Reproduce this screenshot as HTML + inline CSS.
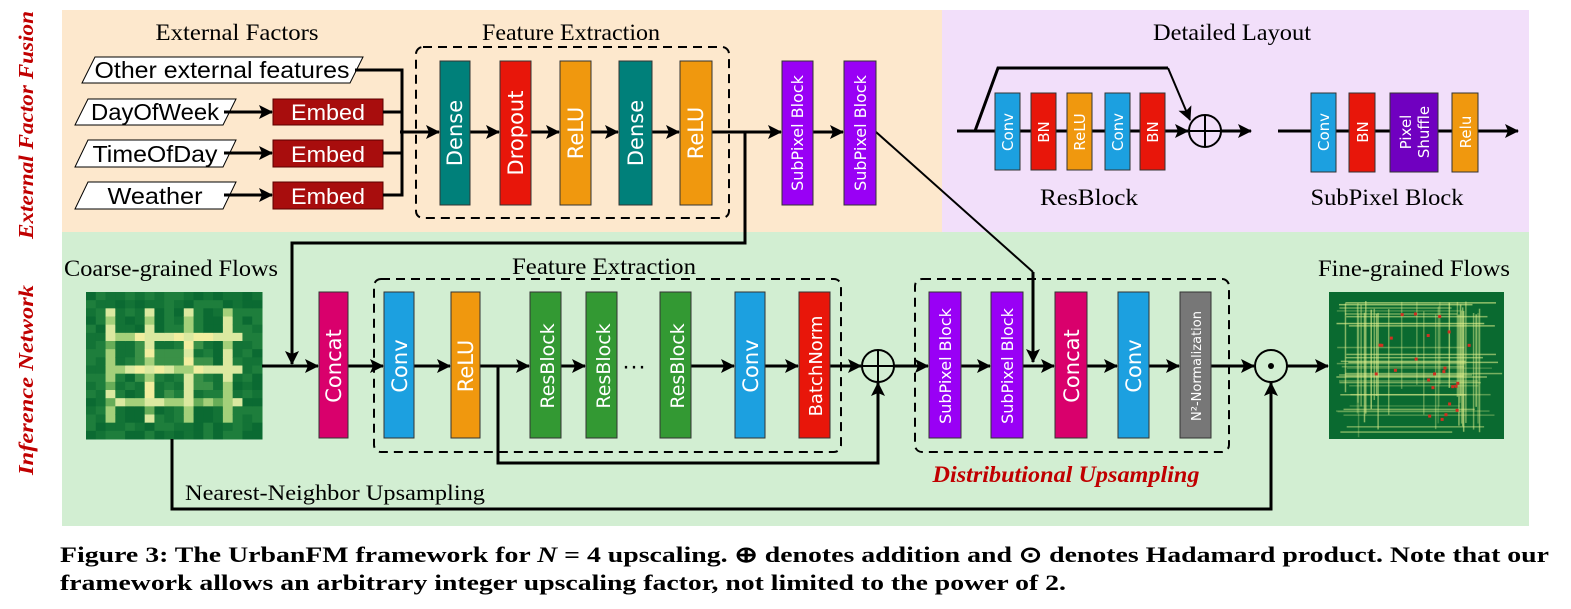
<!DOCTYPE html>
<html><head><meta charset="utf-8"><style>
html,body{margin:0;padding:0;background:#fff;}
svg{display:block;}
.t{font-family:"Liberation Serif",serif;fill:#000;}
.b{font-family:"DejaVu Sans","Liberation Sans",sans-serif;fill:#fff;}
.l{font-family:"Liberation Sans",sans-serif;fill:#000;}
</style></head><body>
<svg id="s" width="1571" height="609" viewBox="0 0 1571 609" xmlns="http://www.w3.org/2000/svg">
<defs>
<marker id="A" markerWidth="14" markerHeight="14" refX="13" refY="7" orient="auto" markerUnits="userSpaceOnUse" viewBox="0 0 14 14"><path d="M0,0 L14,7 L0,14 L3,7 Z" fill="#000"/></marker>
</defs>
<rect x="62" y="10" width="880" height="222" fill="#fde8cd"/>
<rect x="942" y="10" width="587" height="222" fill="#f2dffa"/>
<rect x="62" y="232" width="1467" height="294" fill="#d2eed2"/>

<text transform="translate(33,125) rotate(-90)" text-anchor="middle" font-family="Liberation Serif,serif" font-weight="bold" font-style="italic" font-size="21" fill="#c00000" textLength="228" lengthAdjust="spacingAndGlyphs">External Factor Fusion</text>
<text transform="translate(33,380) rotate(-90)" text-anchor="middle" font-family="Liberation Serif,serif" font-weight="bold" font-style="italic" font-size="21" fill="#c00000" textLength="190" lengthAdjust="spacingAndGlyphs">Inference Network</text>

<text class="t" x="237" y="40" font-size="23" text-anchor="middle" textLength="163" lengthAdjust="spacingAndGlyphs">External Factors</text>
<text class="t" x="571" y="40" font-size="23" text-anchor="middle" textLength="178" lengthAdjust="spacingAndGlyphs">Feature Extraction</text>
<text class="t" x="1232" y="40" font-size="23" text-anchor="middle" textLength="158" lengthAdjust="spacingAndGlyphs">Detailed Layout</text>
<rect x="416" y="47" width="313" height="171" rx="7" fill="none" stroke="#000" stroke-width="2" stroke-dasharray="9,6"/>

<g stroke="#000" stroke-width="1" fill="#fff">
<polygon points="95,57 363,57 350,83 82,83"/>
<polygon points="88,99 236,99 223,125 75,125"/>
<polygon points="88,140 236,140 223,167 75,167"/>
<polygon points="88,182 236,182 223,209 75,209"/>
</g>
<g class="l" font-size="23">
<text x="222" y="78" text-anchor="middle" textLength="255" lengthAdjust="spacingAndGlyphs">Other external features</text>
<text x="155" y="120" text-anchor="middle" textLength="128" lengthAdjust="spacingAndGlyphs">DayOfWeek</text>
<text x="155" y="162" text-anchor="middle" textLength="125" lengthAdjust="spacingAndGlyphs">TimeOfDay</text>
<text x="155" y="204" text-anchor="middle" textLength="95" lengthAdjust="spacingAndGlyphs">Weather</text>
</g>
<g fill="#a80d0d" stroke="#5a0000" stroke-width="1">
<rect x="273" y="99" width="110" height="26"/><rect x="273" y="140" width="110" height="27"/><rect x="273" y="182" width="110" height="27"/>
</g>
<g class="l" font-size="22" text-anchor="middle">
<text x="328" y="120" fill="#fff" textLength="74" lengthAdjust="spacingAndGlyphs">Embed</text>
<text x="328" y="162" fill="#fff" textLength="74" lengthAdjust="spacingAndGlyphs">Embed</text>
<text x="328" y="204" fill="#fff" textLength="74" lengthAdjust="spacingAndGlyphs">Embed</text>
</g>
<g stroke="#000" stroke-width="3" fill="none">
<line x1="224" y1="112" x2="272" y2="112" marker-end="url(#A)"/>
<line x1="224" y1="153" x2="272" y2="153" marker-end="url(#A)"/>
<line x1="224" y1="195" x2="272" y2="195" marker-end="url(#A)"/>
<polyline points="355,70 402,70 402,195 383,195"/>
<line x1="383" y1="112" x2="402" y2="112"/><line x1="383" y1="153" x2="402" y2="153"/>
<line x1="400" y1="132" x2="439" y2="132" marker-end="url(#A)"/>
<line x1="470" y1="132" x2="499" y2="132" marker-end="url(#A)"/>
<line x1="531" y1="132" x2="559" y2="132" marker-end="url(#A)"/>
<line x1="591" y1="132" x2="618" y2="132" marker-end="url(#A)"/>
<line x1="652" y1="132" x2="679" y2="132" marker-end="url(#A)"/>
<line x1="712" y1="132" x2="781" y2="132" marker-end="url(#A)"/>
<line x1="813" y1="132" x2="843" y2="132" marker-end="url(#A)"/>
<polyline points="745,132 745,243 292,243 292,364" marker-end="url(#A)"/>
</g>
<line x1="876" y1="132" x2="1033" y2="272" stroke="#000" stroke-width="2"/>
<polyline points="1033,272 1033,362" stroke="#000" stroke-width="3" fill="none" marker-end="url(#A)"/>

<g stroke="#333" stroke-width="1">
<rect x="440" y="61" width="30" height="144" fill="#00807a"/>
<rect x="500" y="61" width="31" height="144" fill="#e8160a"/>
<rect x="560" y="61" width="31" height="144" fill="#f0980e"/>
<rect x="619" y="61" width="33" height="144" fill="#00807a"/>
<rect x="680" y="61" width="32" height="144" fill="#f0980e"/>
<rect x="782" y="61" width="31" height="144" fill="#9900f5"/>
<rect x="844" y="61" width="32" height="144" fill="#9900f5"/>
</g>
<g class="b" text-anchor="middle">
<text transform="translate(462,133) rotate(-90)" font-size="21">Dense</text>
<text transform="translate(523,133) rotate(-90)" font-size="21">Dropout</text>
<text transform="translate(583,133) rotate(-90)" font-size="21">ReLU</text>
<text transform="translate(643,133) rotate(-90)" font-size="21">Dense</text>
<text transform="translate(703,133) rotate(-90)" font-size="21">ReLU</text>
<text transform="translate(803,133) rotate(-90)" font-size="16">SubPixel Block</text>
<text transform="translate(866,133) rotate(-90)" font-size="16">SubPixel Block</text>
</g>

<g stroke="#000" stroke-width="3" fill="none">
<line x1="957" y1="131" x2="1188" y2="131" marker-end="url(#A)"/>
<polyline points="975,131 998,68 1168,68"/>
<line x1="1221" y1="131" x2="1251" y2="131" marker-end="url(#A)"/>
<line x1="1278" y1="131" x2="1518" y2="131" marker-end="url(#A)"/>
</g>
<line x1="1168" y1="68" x2="1190" y2="120" stroke="#000" stroke-width="2" marker-end="url(#A)"/>
<g stroke="#333" stroke-width="1">
<rect x="995" y="93" width="25" height="77" fill="#1ca0e0"/>
<rect x="1031" y="93" width="25" height="77" fill="#e8160a"/>
<rect x="1067" y="93" width="25" height="77" fill="#f0980e"/>
<rect x="1105" y="93" width="25" height="77" fill="#1ca0e0"/>
<rect x="1140" y="93" width="25" height="77" fill="#e8160a"/>
<rect x="1311" y="93" width="25" height="79" fill="#1ca0e0"/>
<rect x="1349" y="93" width="26" height="79" fill="#e8160a"/>
<rect x="1390" y="93" width="48" height="79" fill="#7000c0"/>
<rect x="1452" y="93" width="26" height="79" fill="#f0980e"/>
</g>
<g class="b" text-anchor="middle" font-size="15">
<text transform="translate(1013,132) rotate(-90)">Conv</text>
<text transform="translate(1049,132) rotate(-90)">BN</text>
<text transform="translate(1085,132) rotate(-90)">ReLU</text>
<text transform="translate(1123,132) rotate(-90)">Conv</text>
<text transform="translate(1158,132) rotate(-90)">BN</text>
<text transform="translate(1329,132) rotate(-90)">Conv</text>
<text transform="translate(1368,132) rotate(-90)">BN</text>
<text transform="translate(1411,132) rotate(-90)">Pixel</text>
<text transform="translate(1429,132) rotate(-90)">Shuffle</text>
<text transform="translate(1471,132) rotate(-90)">Relu</text>
</g>
<g stroke="#000" stroke-width="2" fill="none">
<ellipse cx="1205" cy="131" rx="16" ry="16"/><line x1="1189" y1="131" x2="1221" y2="131"/><line x1="1205" y1="115" x2="1205" y2="147"/>
</g>
<text class="t" x="1089" y="205" font-size="23" text-anchor="middle" textLength="98" lengthAdjust="spacingAndGlyphs">ResBlock</text>
<text class="t" x="1387" y="205" font-size="23" text-anchor="middle" textLength="153" lengthAdjust="spacingAndGlyphs">SubPixel Block</text>

<text class="t" x="171" y="276" font-size="23" text-anchor="middle" textLength="214" lengthAdjust="spacingAndGlyphs">Coarse-grained Flows</text>
<text class="t" x="604" y="274" font-size="23" text-anchor="middle" textLength="184" lengthAdjust="spacingAndGlyphs">Feature Extraction</text>
<text class="t" x="1414" y="276" font-size="23" text-anchor="middle" textLength="192" lengthAdjust="spacingAndGlyphs">Fine-grained Flows</text>
<rect x="374" y="279" width="467" height="173" rx="7" fill="none" stroke="#000" stroke-width="2" stroke-dasharray="9,6"/>
<rect x="915" y="279" width="314" height="173" rx="7" fill="none" stroke="#000" stroke-width="2" stroke-dasharray="9,6"/>
<g id="coarse"></g>
<g id="fine"></g>
<g stroke="#000" stroke-width="3" fill="none">
<line x1="262" y1="366" x2="318" y2="366" marker-end="url(#A)"/>
<line x1="348" y1="366" x2="383" y2="366" marker-end="url(#A)"/>
<line x1="414" y1="366" x2="450" y2="366" marker-end="url(#A)"/>
<line x1="480" y1="366" x2="529" y2="366" marker-end="url(#A)"/>
<line x1="561" y1="366" x2="585" y2="366" marker-end="url(#A)"/>
<line x1="691" y1="366" x2="734" y2="366" marker-end="url(#A)"/>
<line x1="765" y1="366" x2="798" y2="366" marker-end="url(#A)"/>
<line x1="830" y1="366" x2="861" y2="366" marker-end="url(#A)"/>
<line x1="894" y1="366" x2="928" y2="366" marker-end="url(#A)"/>
<line x1="961" y1="366" x2="990" y2="366" marker-end="url(#A)"/>
<line x1="1023" y1="366" x2="1054" y2="366" marker-end="url(#A)"/>
<line x1="1087" y1="366" x2="1117" y2="366" marker-end="url(#A)"/>
<line x1="1149" y1="366" x2="1179" y2="366" marker-end="url(#A)"/>
<line x1="1211" y1="366" x2="1254" y2="366" marker-end="url(#A)"/>
<line x1="1287" y1="366" x2="1328" y2="366" marker-end="url(#A)"/>
<polyline points="498,366 498,463 878,463 878,383" marker-end="url(#A)"/>
<polyline points="172,439 172,509 1271,509 1271,383" marker-end="url(#A)"/>
<circle cx="878" cy="366" r="16" stroke-width="2"/>
<line x1="862" y1="366" x2="894" y2="366" stroke-width="2"/><line x1="878" y1="350" x2="878" y2="382" stroke-width="2"/>
<circle cx="1271" cy="366" r="16" stroke-width="2"/>
</g>
<circle cx="1271" cy="366" r="3" fill="#000"/>
<text x="634" y="374" font-size="24" font-family="Liberation Sans,sans-serif" text-anchor="middle">···</text>
<g stroke="#333" stroke-width="1">
<rect x="319" y="292" width="29" height="146" fill="#d9006c"/>
<rect x="384" y="292" width="30" height="146" fill="#1ca0e0"/>
<rect x="451" y="292" width="29" height="146" fill="#f0980e"/>
<rect x="530" y="292" width="31" height="146" fill="#339933"/>
<rect x="586" y="292" width="31" height="146" fill="#339933"/>
<rect x="660" y="292" width="31" height="146" fill="#339933"/>
<rect x="735" y="292" width="30" height="146" fill="#1ca0e0"/>
<rect x="799" y="292" width="31" height="146" fill="#e8160a"/>
<rect x="929" y="292" width="32" height="146" fill="#9900f5"/>
<rect x="991" y="292" width="32" height="146" fill="#9900f5"/>
<rect x="1055" y="292" width="32" height="146" fill="#d9006c"/>
<rect x="1118" y="292" width="31" height="146" fill="#1ca0e0"/>
<rect x="1180" y="292" width="31" height="146" fill="#777"/>
</g>
<g class="b" text-anchor="middle">
<text transform="translate(341,366) rotate(-90)" font-size="21">Concat</text>
<text transform="translate(407,366) rotate(-90)" font-size="21">Conv</text>
<text transform="translate(473,366) rotate(-90)" font-size="21">ReLU</text>
<text transform="translate(554,366) rotate(-90)" font-size="19">ResBlock</text>
<text transform="translate(610,366) rotate(-90)" font-size="19">ResBlock</text>
<text transform="translate(684,366) rotate(-90)" font-size="19">ResBlock</text>
<text transform="translate(758,366) rotate(-90)" font-size="21">Conv</text>
<text transform="translate(822,366) rotate(-90)" font-size="18">BatchNorm</text>
<text transform="translate(951,366) rotate(-90)" font-size="16">SubPixel Block</text>
<text transform="translate(1013,366) rotate(-90)" font-size="16">SubPixel Block</text>
<text transform="translate(1079,366) rotate(-90)" font-size="21">Concat</text>
<text transform="translate(1141,366) rotate(-90)" font-size="21">Conv</text>
<text transform="translate(1201,366) rotate(-90)" font-size="13">N²-Normalization</text>
</g>
<text class="t" x="185" y="500" font-size="22" textLength="300" lengthAdjust="spacingAndGlyphs">Nearest-Neighbor Upsampling</text>
<text x="1066" y="482" font-size="23" font-family="Liberation Serif,serif" font-weight="bold" font-style="italic" fill="#c00000" text-anchor="middle" textLength="267" lengthAdjust="spacingAndGlyphs">Distributional Upsampling</text>

<text class="t" x="60" y="562" font-size="22" font-weight="bold" textLength="1489" lengthAdjust="spacingAndGlyphs">Figure 3: The UrbanFM framework for <tspan font-style="italic">N</tspan> = 4 upscaling. ⊕ denotes addition and ⊙ denotes Hadamard product. Note that our</text>
<text class="t" x="60" y="590" font-size="22" font-weight="bold" textLength="1006" lengthAdjust="spacingAndGlyphs">framework allows an arbitrary integer upscaling factor, not limited to the power of 2.</text>
</svg>
<script>
(function(){
var NS="http://www.w3.org/2000/svg";
var seed=7;function r(){seed=(seed*16807)%2147483647;return seed/2147483647;}
function rect(g,x,y,w,h,f){var e=document.createElementNS(NS,"rect");e.setAttribute("x",x);e.setAttribute("y",y);e.setAttribute("width",w);e.setAttribute("height",h);e.setAttribute("fill",f);g.appendChild(e);}
var c=document.getElementById("coarse");
var cols=["#0b6a32","#137336","#1e7e3c","#3a9147","#67ad58","#a4d07a","#dbe9a0","#f2ee9f","#f0c27a","#d9603e","#c02020"];
var n=18,x0=86,y0=292,w=176/n,h=147/n;
for(var i=0;i<n;i++)for(var j=0;j<n;j++){
 var cx=Math.abs(i-8.5),cy=Math.abs(j-8.5),d=Math.max(cx,cy);
 var line=((i%4==2)||(j%4==1))&&d<7.5;
 var v=r()*2.5+(line?4.5:0.3)+(d<4?1:0);
 var k=Math.min(10,Math.floor(v));
 if(k>=9&&r()<0.7)k=7;
 rect(c,x0+i*w,y0+j*h,w+0.5,h+0.5,cols[k]);}
var f=document.getElementById("fine");
rect(f,1329,292,175,147,"#0a6a30");
for(var t=0;t<32;t++){
 var op=(0.2+r()*0.45).toFixed(2);
 rect(f,1338+r()*158,300+r()*15,1.5,80+r()*45,"rgba(225,240,140,"+op+")");
 rect(f,1336+r()*15,300+r()*132,110+r()*50,1.5,"rgba(225,240,140,"+op+")");}
for(var t=0;t<25;t++)rect(f,1370+r()*100,310+r()*110,3,3,"#d03020");
})();
</script>
</body></html>
